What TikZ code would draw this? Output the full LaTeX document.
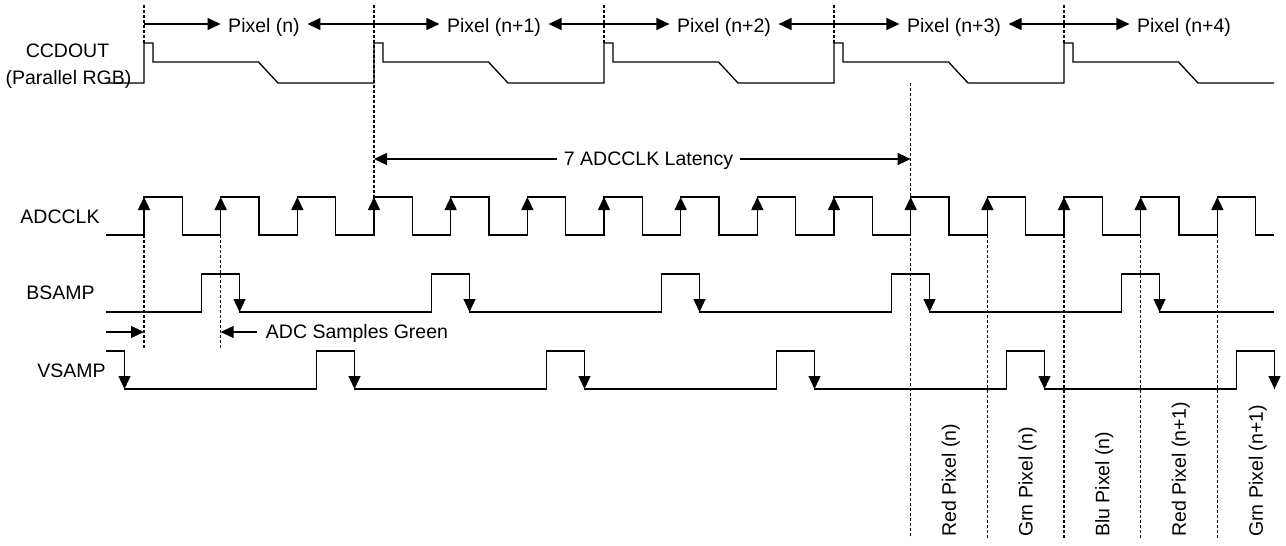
\documentclass[tikz,border=0pt]{standalone}
\usepackage{fontspec}
\setmainfont{Liberation Sans}
\usetikzlibrary{arrows.meta}
\begin{document}
\begin{tikzpicture}[x=1pt,y=-1pt,
  wave/.style={line width=1.3pt, line join=miter},
  dotline/.style={line width=1.1pt, dash pattern=on 3pt off 2pt},
  arr/.style={line width=1.3pt, -{Triangle[length=13pt,width=12pt]}},
  lbl/.style={font=\fontsize{19.5}{23}\selectfont, inner ysep=0pt, inner xsep=7.5pt, text height=13.9pt, text depth=0pt},
  vlbl/.style={lbl, rotate=90, anchor=west, inner sep=0pt},
]
\useasboundingbox (0,0) rectangle (1286,546);

% ---------- dotted reference lines ----------
\foreach \b in {144,604,834,1064} \draw[dotline] (\b,5) -- (\b,43);
\draw[dotline] (374,5) -- (374,197);
\draw[dotline] (144,235) -- (144,348);
\draw[dotline] (220.667,235) -- (220.667,348);
\draw[dotline] (910.667,83) -- (910.667,538);
\foreach \x in {987.333,1064,1140.667,1217.333} \draw[dotline] (\x,235) -- (\x,538);

% ---------- labels ----------
\node[lbl] (ccd) at (67.5,50.5) {CCDOUT};
\node[lbl] (prgb) at (68.5,77.5) {(Parallel RGB)};
\node[lbl] (adcclk) at (60,216.5) {ADCCLK};
\node[lbl] (bsamp) at (60.5,293) {BSAMP};
\node[lbl] (vsamp) at (71.5,371) {VSAMP};

% ---------- CCDOUT waveform ----------
\draw[wave] (107,83) \foreach \k in {0,...,4}{
  -- ({144+230*\k},83) -- ({144+230*\k},43) -- ({153+230*\k},43) -- ({153+230*\k},62)
  -- ({258.5+230*\k},62) -- ({278+230*\k},83) } -- (1274,83);

% ---------- pixel arrows ----------
\foreach \k/\t in {0/Pixel (n),1/Pixel (n+1),2/Pixel (n+2),3/Pixel (n+3),4/Pixel (n+4)}{
  \coordinate (t\k) at ({144+230*\k},24);
  \node[lbl] (p\k) at ({264+230*\k},25.5) {\t};
}
\foreach \k in {0,...,4} \draw[arr] (t\k) -- (t\k -| p\k.west);
\foreach \k/\n in {0/1,1/2,2/3,3/4} \draw[arr] (t\n) -- (t\n -| p\k.east);

% ---------- latency ----------
\node[lbl, inner xsep=7pt] (lat) at (648.5,159) {7 ADCCLK Latency};
\coordinate (la) at (374,159);
\coordinate (lb) at (910.667,159);
\draw[arr] (lat.west |- la) -- (la);
\draw[arr] (lat.east |- lb) -- (lb);

% ---------- ADCCLK ----------
\draw[wave] (106,235) \foreach \k in {0,...,14}{
  -- ({144+76.6667*\k},235) -- ({144+76.6667*\k},197)
  -- ({182.333+76.6667*\k},197) -- ({182.333+76.6667*\k},235) } -- (1274,235);
\foreach \k in {0,...,14} \draw[arr] ({144+76.6667*\k},235) -- ({144+76.6667*\k},197);

% ---------- BSAMP ----------
\draw[wave] (106,312) \foreach \k in {0,...,4}{
  -- ({201.5+230*\k},312) -- ({201.5+230*\k},274)
  -- ({239.5+230*\k},274) -- ({239.5+230*\k},312) } -- (1274,312);
\foreach \k in {0,...,4} \draw[arr] ({239.5+230*\k},274) -- ({239.5+230*\k},312);

% ---------- ADC Samples Green ----------
\node[lbl, inner xsep=9pt] (asg) at (357,331.5) {ADC Samples Green};
\coordinate (sa) at (106,332);
\coordinate (sb) at (144,332);
\coordinate (sc) at (220.667,332);
\draw[arr] (sa) -- (sb);
\draw[arr] (asg.west |- sc) -- (sc);

% ---------- VSAMP ----------
\draw[wave] (106,351) -- (124.5,351) -- (124.5,389) \foreach \k in {0,...,4}{
  -- ({316.5+230*\k},389) -- ({316.5+230*\k},351)
  -- ({354.5+230*\k},351) -- ({354.5+230*\k},389) };
\draw[arr] (124.5,351) -- (124.5,389);
\foreach \k in {0,...,4} \draw[arr] ({354.5+230*\k},351) -- ({354.5+230*\k},389);

% ---------- bottom labels ----------
\node[vlbl] (r0) at (949,537) {Red Pixel (n)};
\node[vlbl] (g0) at (1025.7,537) {Grn Pixel (n)};
\node[vlbl] (b0) at (1102.3,537) {Blu Pixel (n)};
\node[vlbl] (r1) at (1179,537) {Red Pixel (n+1)};
\node[vlbl] (g1) at (1256,537) {Grn Pixel (n+1)};
\end{tikzpicture}
\end{document}
